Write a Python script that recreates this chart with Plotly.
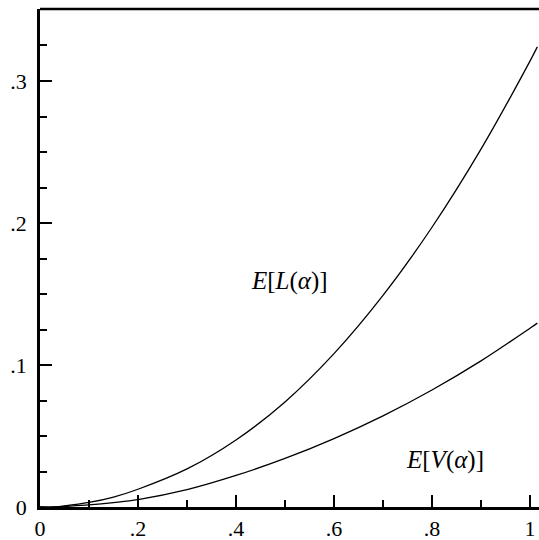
import plotly.graph_objects as go

alpha = [0.0, 0.03, 0.05, 0.1, 0.15, 0.2, 0.3, 0.4, 0.5, 0.6, 0.7, 0.8, 0.9, 1.0, 1.015]
exp_L = [0.0, 0.0, 0.0007, 0.0032, 0.0070, 0.0125, 0.0268, 0.0472, 0.0740, 0.108, 0.149, 0.197, 0.252, 0.314, 0.324]
exp_V = [0.0, 0.0, 0.0004, 0.0015, 0.0031, 0.0052, 0.0122, 0.0222, 0.0342, 0.0482, 0.0642, 0.0824, 0.1029, 0.1259, 0.1295]

x_tickvals = [0, 0.2, 0.4, 0.6, 0.8, 1.0]
x_ticktext = ["0", ".2", ".4", ".6", ".8", "1"]
y_tickvals = [0, 0.1, 0.2, 0.3]
y_ticktext = ["0", ".1", ".2", ".3"]

FONT = "Liberation Serif"

fig = go.Figure()
fig.add_trace(go.Scatter(x=alpha, y=exp_L, mode="lines", line=dict(color="black", width=1.3, shape="spline", smoothing=1.0), showlegend=False))
fig.add_trace(go.Scatter(x=alpha, y=exp_V, mode="lines", line=dict(color="black", width=1.3, shape="spline", smoothing=1.0), showlegend=False))

fig.add_annotation(x=0.51, y=0.159, text="<i>E</i>[<i>L</i>(<i>α</i>)]", showarrow=False,
                   font=dict(family=FONT, size=25, color="black"))
fig.add_annotation(x=0.827, y=0.033, text="<i>E</i>[<i>V</i>(<i>α</i>)]", showarrow=False,
                   font=dict(family=FONT, size=25, color="black"))

fig.add_shape(type="line", xref="paper", yref="paper", x0=0, x1=1, y0=1, y1=1,
              line=dict(color="black", width=2.5))

fig.update_xaxes(range=[0, 1.0184], showgrid=False, zeroline=False, showline=True, linecolor="black", linewidth=2.5,
                 automargin=False,
                 tickvals=x_tickvals, ticktext=x_ticktext, ticks="inside", ticklen=12, tickwidth=1.5, tickcolor="black",
                 minor=dict(ticks="inside", ticklen=7, tickwidth=1.5, tickcolor="black", dtick=0.1, showgrid=False),
                 tickfont=dict(family=FONT, size=22, color="black"))
fig.update_yaxes(range=[0, 0.3507], showgrid=False, zeroline=False, showline=True, linecolor="black", linewidth=2.5,
                 automargin=False, ticklabelstandoff=6,
                 tickvals=y_tickvals, ticktext=y_ticktext, ticks="inside", ticklen=12, tickwidth=1.5, tickcolor="black",
                 minor=dict(ticks="inside", ticklen=7, tickwidth=1.5, tickcolor="black", dtick=0.025, showgrid=False),
                 tickfont=dict(family=FONT, size=22, color="black"))

fig.update_layout(width=539, height=540, margin=dict(l=40, r=0, t=9, b=33),
                  plot_bgcolor="white", paper_bgcolor="white")

fig.write_html("out.html", config={"displayModeBar": False},
               post_script="document.body.style.margin='0';document.body.style.overflow='hidden';")
